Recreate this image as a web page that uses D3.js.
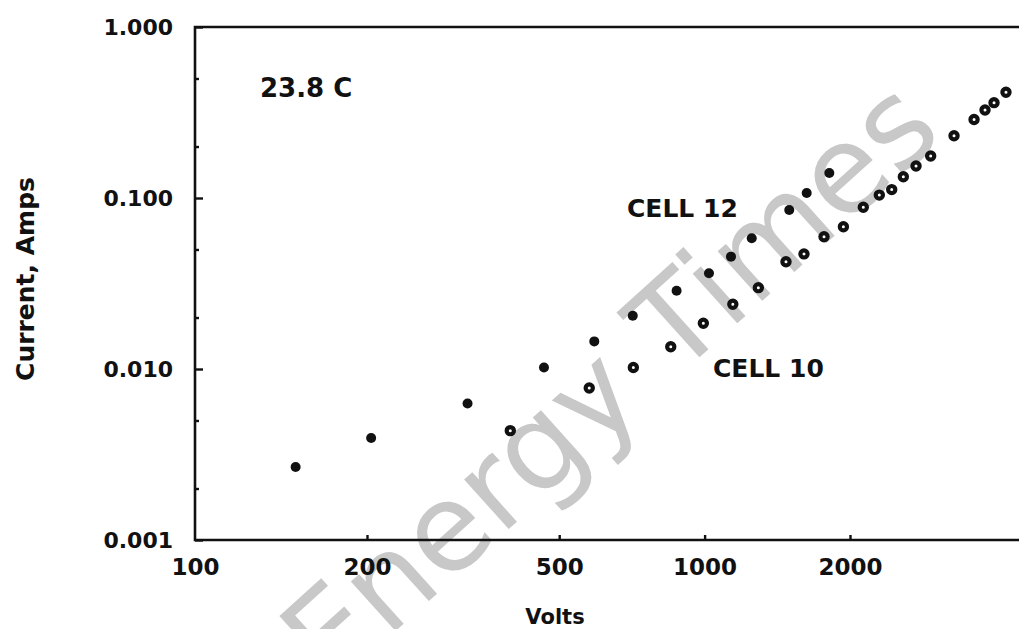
<!DOCTYPE html>
<html lang="en">

<head>
    <meta charset="UTF-8">
    <title>Current vs Volts</title>
    <script src="https://d3js.org/d3.v7.min.js"></script>
</head>
<style>
    body {
        margin: 0;
        background: #fff;
    }

    text {
        font-family: "DejaVu Sans", sans-serif;
        font-weight: bold;
        fill: #111;
    }

    .frame {
        stroke: #111;
        stroke-width: 2.6px;
        fill: none;
    }

    .axis line {
        stroke: #111;
        stroke-width: 2.4px;
    }
</style>

<body>
    <svg id="chart"></svg>

    <script>
        // values
        var cell12Volts = [150, 204, 323, 465, 591, 710, 875, 1021, 1134, 1252, 1497, 1627, 1812];
        var cell12Amps = [0.00267, 0.00395, 0.00629, 0.0102, 0.0145, 0.0205, 0.0287, 0.0363, 0.0454, 0.0581, 0.0851, 0.107, 0.140];

        var cell10Volts = [396, 577, 712, 851, 994, 1144, 1292, 1474, 1606, 1767, 1938, 2131, 2300, 2440, 2579, 2740, 2938, 3284, 3613, 3807, 3974, 4207];
        var cell10Amps = [0.00436, 0.00774, 0.0102, 0.0135, 0.0185, 0.0239, 0.0299, 0.0424, 0.0471, 0.0594, 0.0679, 0.0883, 0.104, 0.112, 0.133, 0.154, 0.176, 0.231, 0.288, 0.327, 0.361, 0.415];

        var xTicks = [100, 200, 500, 1000, 2000];
        var yTicks = [1, 0.1, 0.01, 0.001];
        var yMinorTicks = [0.5, 0.2, 0.05, 0.02, 0.005, 0.002];

        var xTitle = "Volts";
        var yTitle = "Current, Amps";
        var tempLabel = "23.8 C";
        var seriesLabels = ["CELL 12", "CELL 10"];
        var watermark = "Energy Times";

        var width = 1019,
            height = 629;

        var svg = d3.select("#chart")
            .attr("width", width)
            .attr("height", height);

        // the printed axis is slightly stretched between 100 and 200
        var x = d3.scaleLog()
            .domain([100, 200, 2000])
            .range([195, 367, 850]);

        var y = d3.scaleLog()
            .domain([0.001, 1])
            .range([540, 27]);

        // watermark under everything
        svg.append("text")
            .attr("transform", "translate(330,690) rotate(-42)")
            .style("font-weight", "normal")
            .style("font-size", "122px")
            .style("fill", "#c8c8c8")
            .text(watermark);

        // frame: left, top and bottom (right side is cut off)
        svg.append("path")
            .attr("class", "frame")
            .attr("d", "M" + width + "," + y(1) + "H" + x(100) + "V" + y(0.001) + "H" + width);

        // y axis, ticks point inward
        svg.append("g")
            .attr("class", "axis")
            .attr("transform", "translate(" + x(100) + ",0)")
            .call(d3.axisLeft(y).tickValues(yTicks).tickSize(-8).tickPadding(22).tickFormat(d3.format(".3f")))
            .call(function(g) {
                g.select(".domain").remove();
                g.selectAll("text").style("font-size", "22px").style("font-family", null);
            });

        svg.append("g")
            .attr("class", "axis")
            .attr("transform", "translate(" + x(100) + ",0)")
            .call(d3.axisLeft(y).tickValues(yMinorTicks).tickSize(-4).tickFormat(""))
            .call(function(g) {
                g.select(".domain").remove();
            });

        // x axis
        svg.append("g")
            .attr("class", "axis")
            .attr("transform", "translate(0," + y(0.001) + ")")
            .call(d3.axisBottom(x).tickValues(xTicks).tickSize(-5).tickPadding(19).tickFormat(d3.format("d")))
            .call(function(g) {
                g.select(".domain").remove();
                g.selectAll("text").style("font-size", "23px").style("font-family", null);
                g.selectAll(".tick line").filter(function(d) {
                    return d == 100;
                }).remove();
            });

        // axis titles
        svg.append("text")
            .attr("x", 555)
            .attr("y", 624)
            .attr("text-anchor", "middle")
            .style("font-size", "21px")
            .text(xTitle);

        svg.append("text")
            .attr("transform", "translate(34,279) rotate(-90)")
            .attr("text-anchor", "middle")
            .style("font-size", "25px")
            .text(yTitle);

        // labels inside the plot
        svg.append("text")
            .attr("x", 260)
            .attr("y", 97)
            .style("font-size", "26px")
            .text(tempLabel);

        svg.append("text")
            .attr("x", 627)
            .attr("y", 217)
            .style("font-size", "25px")
            .text(seriesLabels[0]);

        svg.append("text")
            .attr("x", 713)
            .attr("y", 377)
            .style("font-size", "25px")
            .text(seriesLabels[1]);

        // CELL 12: solid dots
        svg.append("g")
            .selectAll("circle")
            .data(d3.zip(cell12Volts, cell12Amps))
            .enter().append("circle")
            .attr("cx", function(d) {
                return x(d[0]);
            })
            .attr("cy", function(d) {
                return y(d[1]);
            })
            .attr("r", 5)
            .style("fill", "#111");

        // CELL 10: rings with a small white centre
        svg.append("g")
            .selectAll("circle")
            .data(d3.zip(cell10Volts, cell10Amps))
            .enter().append("circle")
            .attr("cx", function(d) {
                return x(d[0]);
            })
            .attr("cy", function(d) {
                return y(d[1]);
            })
            .attr("r", 3.6)
            .style("fill", "#fff")
            .style("stroke", "#111")
            .style("stroke-width", 4.2);
    </script>
</body>

</html>
